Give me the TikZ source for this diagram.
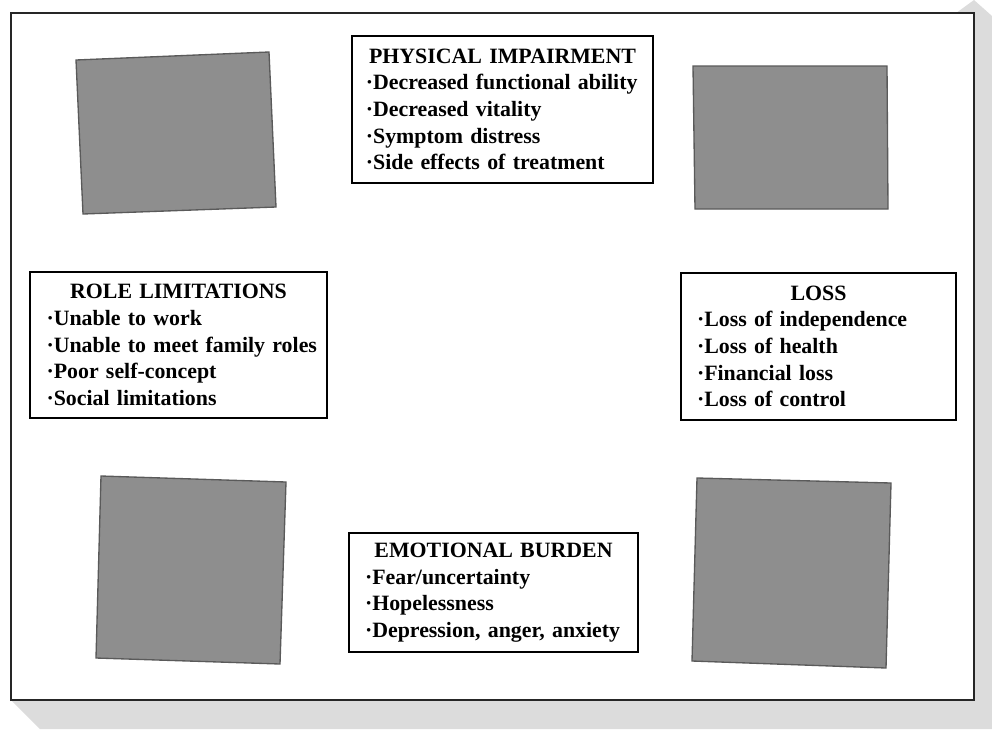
\documentclass[tikz,border=0pt]{standalone}
\usepackage{fontspec}
\setmainfont{Liberation Serif}
\definecolor{shadowgray}{HTML}{DCDCDC}
\definecolor{blockgray}{HTML}{8E8E8E}
\definecolor{blockedge}{HTML}{5A5A5A}
\newcommand{\boxhead}[1]{\makebox[\linewidth]{#1}}
\newcommand{\nobreakwords}{\hyphenpenalty=10000\relax}
\begin{document}
\begin{tikzpicture}[x=0.75pt,y=-0.75pt,
  block/.style={draw=blockedge,fill=blockgray,line width=1pt},
  topic/.style={draw=black,fill=white,line width=1pt,inner sep=0pt,align=left,
    font=\fontsize{16.4}{20}\selectfont\bfseries,execute at begin node=\nobreakwords}]
\useasboundingbox (0,0) rectangle (992,729);
\fill[shadowgray] (974,0) -- (992,16) -- (992,729) -- (40,729) -- (11,700) -- cycle;
\draw[line width=1.1pt,draw=black!85,fill=white] (11,13) rectangle (974,700);

% grey blocks
\draw[block] (76,60) -- (269,52) -- (276,207) -- (83,214) -- cycle;
\draw[block] (693,66) -- (887,66) -- (888,209) -- (695,209) -- cycle;
\draw[block] (101,476) -- (286,482) -- (280,664) -- (96,658) -- cycle;
\draw[block] (697,478) -- (891,483) -- (886,668) -- (692,661) -- cycle;

% topic boxes
\node (physical) at (502.5,109.5) [topic,minimum width=225.75pt,minimum height=110.25pt,text width=205pt]
  {\boxhead{PHYSICAL IMPAIRMENT}\\·Decreased functional ability\\·Decreased vitality\\·Symptom distress\\·Side effects of treatment};
\node (role) at (178.5,345) [topic,minimum width=222.75pt,minimum height=109.5pt,text width=198pt]
  {\boxhead{ROLE LIMITATIONS}\\·Unable to work\\\mbox{·Unable to meet family roles}\\·Poor self-concept\\·Social limitations};
\node (loss) at (818.5,346.5) [topic,minimum width=206.25pt,minimum height=110.25pt,text width=182.25pt]
  {\boxhead{LOSS}\\·Loss of independence\\·Loss of health\\·Financial loss\\·Loss of control};
\node (emotional) at (493.5,592.5) [topic,minimum width=216.75pt,minimum height=89.25pt,text width=192.75pt]
  {\boxhead{EMOTIONAL BURDEN}\\·Fear/uncertainty\\·Hopelessness\\·Depression, anger, anxiety};
\end{tikzpicture}
\end{document}
